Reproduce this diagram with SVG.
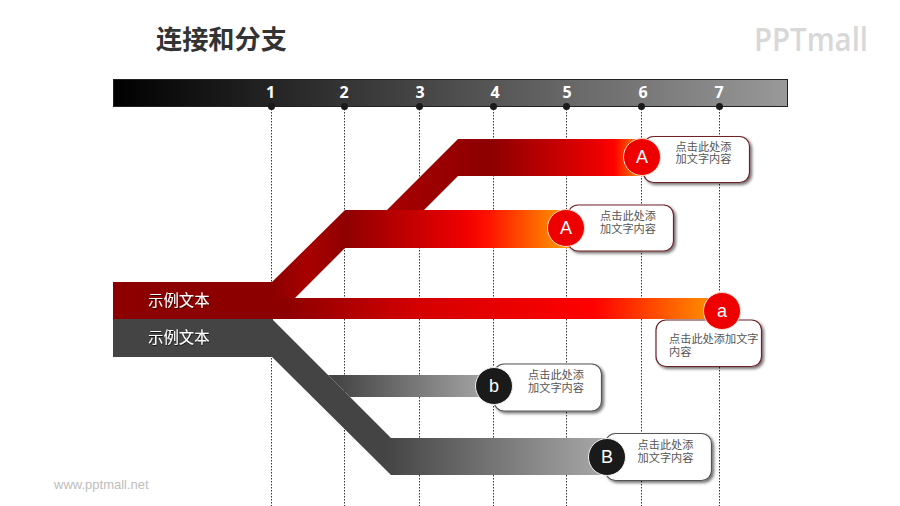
<svg xmlns="http://www.w3.org/2000/svg" width="900" height="506" viewBox="0 0 900 506">
<defs>
<linearGradient id="barG" x1="0" x2="1" y1="0" y2="0"><stop offset="0" stop-color="#000"/><stop offset="1" stop-color="#999"/></linearGradient>
<linearGradient id="r1" gradientUnits="userSpaceOnUse" x1="387" x2="645" y1="0" y2="0"><stop offset="0" stop-color="#a80000"/><stop offset="0.4" stop-color="#8c0000"/><stop offset="0.8" stop-color="#e60000"/><stop offset="0.88" stop-color="#ff0000"/><stop offset="1" stop-color="#ffa000"/></linearGradient>
<linearGradient id="r2" gradientUnits="userSpaceOnUse" x1="272" x2="570" y1="0" y2="0"><stop offset="0" stop-color="#8c0000"/><stop offset="0.12" stop-color="#a80000"/><stop offset="0.25" stop-color="#900000"/><stop offset="0.65" stop-color="#f00000"/><stop offset="0.72" stop-color="#ff1000"/><stop offset="1" stop-color="#ffa000"/></linearGradient>
<linearGradient id="r3" gradientUnits="userSpaceOnUse" x1="285" x2="725" y1="0" y2="0"><stop offset="0" stop-color="#8c0000"/><stop offset="0.3" stop-color="#d40000"/><stop offset="0.7" stop-color="#ff0000"/><stop offset="1" stop-color="#ffa000"/></linearGradient>
<linearGradient id="g1" gradientUnits="userSpaceOnUse" x1="335" x2="495" y1="0" y2="0"><stop offset="0" stop-color="#444"/><stop offset="1" stop-color="#aaa"/></linearGradient>
<linearGradient id="g2" gradientUnits="userSpaceOnUse" x1="385" x2="610" y1="0" y2="0"><stop offset="0" stop-color="#444"/><stop offset="1" stop-color="#aaa"/></linearGradient>
<filter id="sh" x="-15%" y="-15%" width="135%" height="140%"><feDropShadow dx="2" dy="2" stdDeviation="1.6" flood-color="#000" flood-opacity="0.55"/></filter>
<filter id="ts" x="-10%" y="-20%" width="120%" height="150%"><feDropShadow dx="0.5" dy="1" stdDeviation="0.6" flood-color="#000" flood-opacity="0.7"/></filter>
</defs>
<style>
text{font-family:"Noto Sans CJK SC","Noto Sans",sans-serif}
.v{stroke:#333;stroke-width:1;stroke-dasharray:1.5 1.5;fill:none}
.dot{fill:#1a1a1a}
.num{font-family:"Open Sans",sans-serif;font-weight:700;font-size:16px;fill:#fff;text-anchor:middle}
.cr{fill:#fff;stroke:#6e2028;stroke-width:1.2;filter:url(#sh)}
.cg{fill:#fff;stroke:#555;stroke-width:1.2;filter:url(#sh)}
.ct{font-size:11.2px;fill:#555;text-anchor:middle}
.cl{font-size:11.2px;fill:#555}
.br{fill:#ee0000;stroke:#ffd8c8;stroke-width:1}
.bk{fill:#1a1a1a;stroke:#eee;stroke-width:1}
.bt{font-family:"Liberation Sans",sans-serif;font-size:18px;fill:#fff;text-anchor:middle}
.lb{font-size:15.400px;fill:#fff;filter:url(#ts)}
</style>

<g id="title"><text x="156" y="49" font-size="26.200" font-weight="700" fill="#333">连接和分支</text></g>
<g id="logo"><text x="754" y="51" font-size="33" font-weight="600" fill="#d8d8d8" textLength="114" lengthAdjust="spacingAndGlyphs" style="font-family:'Open Sans',sans-serif">PPTmall</text></g>
<g id="watermark"><text x="54" y="489" font-size="13" fill="#bdbdbd" style="font-family:'Liberation Sans',sans-serif">www.pptmall.net</text></g>

<g id="connectors">
<line class="v" x1="271.500" y1="106" x2="271.500" y2="506"/>
<line class="v" x1="344.500" y1="106" x2="344.500" y2="506"/>
<line class="v" x1="419.500" y1="106" x2="419.500" y2="506"/>
<line class="v" x1="493.500" y1="106" x2="493.500" y2="506"/>
<line class="v" x1="566.500" y1="106" x2="566.500" y2="506"/>
<line class="v" x1="641.500" y1="106" x2="641.500" y2="506"/>
<line class="v" x1="719.500" y1="106" x2="719.500" y2="506"/>
<path id="branch-r1" fill="url(#r1)" d="M387 210L458 139H645V176H458L424 210Z"/>
<path id="branch-r3" fill="url(#r3)" d="M272 298H725V319H272Z"/>
<path id="branch-r2" fill="url(#r2)" d="M272 282L345 210H570V248H345L295 298H272Z"/>
<path id="branch-g2" fill="url(#g2)" d="M272 319L391 438H610V475H391L272 357Z"/>
<path id="branch-g1" fill="url(#g1)" d="M328 375H495V397H350Z"/>
</g>

<g id="timeline">
<rect x="113.500" y="79.500" width="674" height="27" fill="url(#barG)" stroke="#222" stroke-width="1"/>
<circle class="dot" cx="271.500" cy="106.500" r="3.500"/><circle class="dot" cx="344.500" cy="106.500" r="3.500"/><circle class="dot" cx="419.500" cy="106.500" r="3.500"/><circle class="dot" cx="493.500" cy="106.500" r="3.500"/><circle class="dot" cx="566.500" cy="106.500" r="3.500"/><circle class="dot" cx="641.500" cy="106.500" r="3.500"/><circle class="dot" cx="719.500" cy="106.500" r="3.500"/>
<text class="num" x="270.500" y="98">1</text><text class="num" x="344" y="98">2</text><text class="num" x="420" y="98">3</text><text class="num" x="495" y="98">4</text><text class="num" x="567" y="98">5</text><text class="num" x="643" y="98">6</text><text class="num" x="719" y="98">7</text>
</g>

<g id="source-red"><rect x="113" y="282" width="160" height="37" fill="#8c0000"/><text class="lb" x="148" y="306">示例文本</text></g>
<g id="source-gray"><rect x="113" y="319" width="160" height="38" fill="#444"/><text class="lb" x="148" y="343">示例文本</text></g>

<g id="node-A1"><rect class="cr" x="643.500" y="136.500" width="106" height="46" rx="10"/><circle class="br" cx="642" cy="157" r="18.500"/><text class="bt" x="642" y="163">A</text><text class="ct"><tspan x="703.500" y="150.500">点击此处添</tspan><tspan x="703.500" y="163">加文字内容</tspan></text></g>
<g id="node-A2"><rect class="cr" x="568" y="205" width="105.500" height="46" rx="10"/><circle class="br" cx="566" cy="228" r="18.500"/><text class="bt" x="566" y="234">A</text><text class="ct"><tspan x="628" y="219.500">点击此处添</tspan><tspan x="628" y="232.500">加文字内容</tspan></text></g>
<g id="node-a"><rect class="cr" x="656" y="320" width="105.500" height="46.500" rx="10"/><circle class="br" cx="722" cy="311" r="18.500"/><text class="bt" x="722" y="317">a</text><text class="cl"><tspan x="669" y="343">点击此处添加文字</tspan><tspan x="669" y="356">内容</tspan></text></g>
<g id="node-b"><rect class="cg" x="494" y="364" width="107.500" height="47" rx="10"/><circle class="bk" cx="494" cy="386" r="18.500"/><text class="bt" x="494" y="392">b</text><text class="ct"><tspan x="556" y="379">点击此处添</tspan><tspan x="556" y="392">加文字内容</tspan></text></g>
<g id="node-B"><rect class="cg" x="605.500" y="433.500" width="106" height="47" rx="10"/><circle class="bk" cx="607" cy="457" r="18.500"/><text class="bt" x="607" y="463">B</text><text class="ct"><tspan x="665.500" y="448.500">点击此处添</tspan><tspan x="665.500" y="461.500">加文字内容</tspan></text></g>
</svg>
